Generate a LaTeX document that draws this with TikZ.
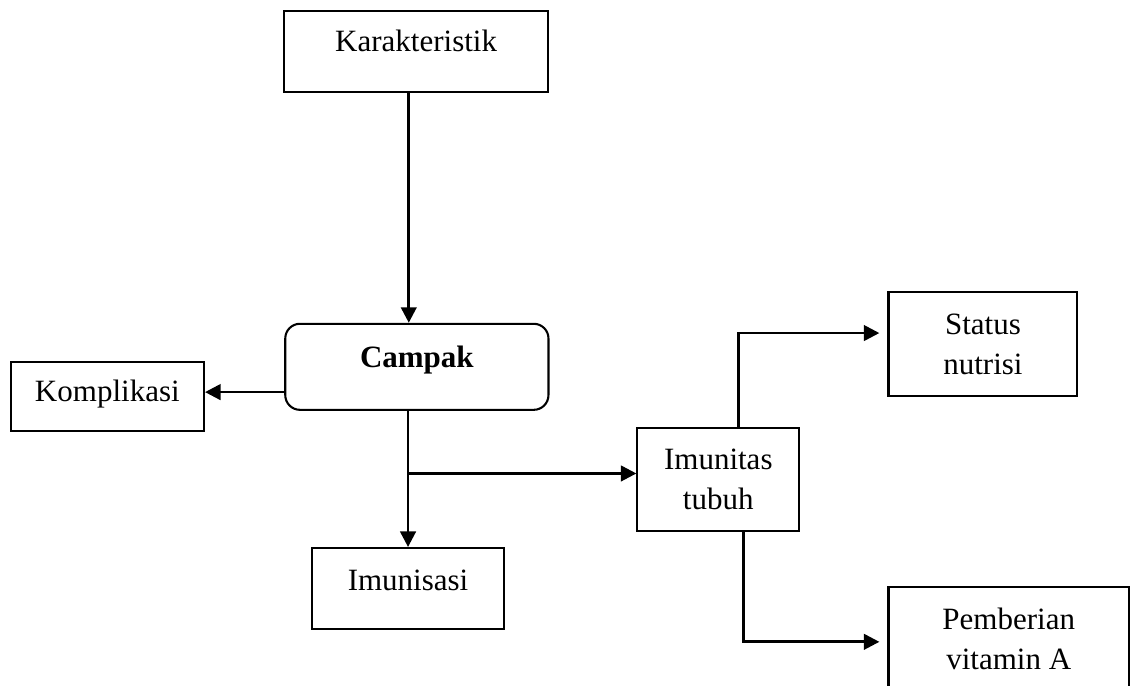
\documentclass[tikz,border=0pt]{standalone}
\usepackage{fontspec}
\setmainfont{Liberation Serif}
\usetikzlibrary{arrows.meta}

\begin{document}
\begin{tikzpicture}[
    box/.style={draw, line width=0.8pt, inner sep=0pt, font=\fontsize{12}{15.5}\selectfont},
    arrow/.style={line width=1.05pt, -{Triangle[length=6pt,width=6pt]}}
]
    \useasboundingbox (0,0) rectangle (15.37,-9.33);
    \clip (0,0) rectangle (15.37,-9.33);

    % Top and central boxes
    \node[box, anchor=north, minimum width=3.59cm, text height=15.5pt, text depth=15.9pt] (karakteristik) at (5.66,-0.14) {Karakteristik};
    \node[box, anchor=north, rounded corners=0.2cm, minimum width=3.58cm, text height=17pt, text depth=16.3pt] (campak) at (5.67,-4.39) {\textbf{Campak}};

    % Left and lower boxes
    \node[box, anchor=north, minimum width=2.63cm, text height=15.1pt, text depth=11.6pt] (komplikasi) at (1.46,-4.91) {Komplikasi};
    \node[box, anchor=north, minimum width=2.61cm, text height=16.3pt, text depth=15.1pt] (imunisasi) at (5.55,-7.44) {Imunisasi};

    % Right boxes
    \node[box, align=center, minimum width=2.20cm, minimum height=1.40cm] (imunitas) at (9.77,-6.52) {Imunitas\\tubuh};
    \node[box, align=center, minimum width=2.57cm, minimum height=1.41cm] (status) at (13.37,-4.68) {Status\\nutrisi};
    \node[box, align=center, minimum width=3.27cm, minimum height=1.41cm] (pemberian) at (13.72,-8.69) {Pemberian\\vitamin A};

    % Connectors
    \coordinate (split) at (5.55,-6.44);
    \draw[arrow] ([xshift=-0.1cm]karakteristik.south) -- ([xshift=-0.1cm]karakteristik.south |- campak.north);
    \draw[arrow] ([yshift=0.06cm]komplikasi.east -| campak.west) -- ([yshift=0.06cm]komplikasi.east);
    \draw[arrow] (campak.south -| imunisasi.north) -- (imunisasi.north);
    \draw[arrow] (split) -- (split -| imunitas.west);
    \draw[arrow] ([xshift=0.27cm]imunitas.north) |- ([xshift=-0.11cm,yshift=0.15cm]status.west);
    \draw[arrow] ([xshift=0.34cm]imunitas.south) |- ([xshift=-0.11cm,yshift=-0.04cm]pemberian.west);
\end{tikzpicture}
\end{document}
